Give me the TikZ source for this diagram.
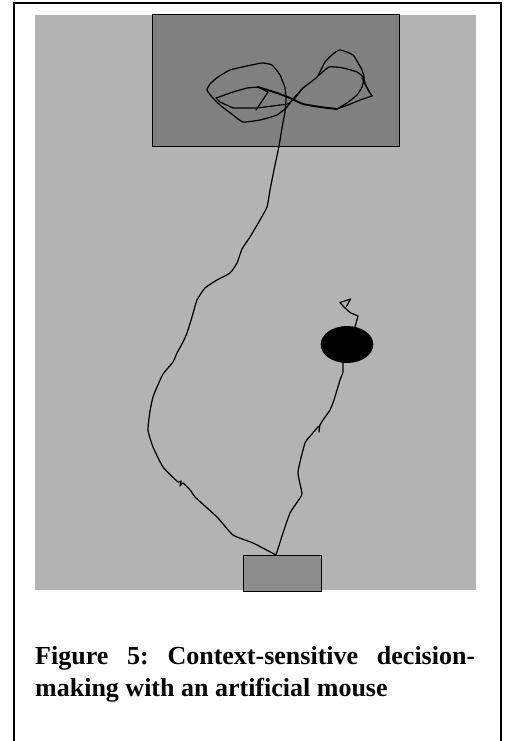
\documentclass[tikz,border=0pt]{standalone}
\usepackage{fontspec}
\setmainfont{Liberation Serif}
\usetikzlibrary{shapes.geometric}
\definecolor{arena}{RGB}{179,179,179}
\definecolor{goalbox}{RGB}{128,128,128}
\definecolor{startbox}{RGB}{140,140,140}
\tikzset{
  track/.style={line width=1.25pt, line join=round, line cap=round},
  thicktrack/.style={line width=1.9pt, line join=round, line cap=round},
  box/.style={draw, line width=1.2pt, inner sep=0pt, anchor=north west},
  captext/.style={anchor=base west, inner sep=0pt, font=\fontsize{26}{32}\selectfont\bfseries\frenchspacing}
}
\begin{document}
\begin{tikzpicture}[x=1pt,y=-1pt]
\useasboundingbox (0,0) rectangle (507,741);
\fill[white] (0,0) rectangle (507,741);
% frame
\draw[line width=2pt] (13.5,742) -- (13.5,3) -- (500.5,3) -- (500.5,742);
% arena
\fill[arena] (35,15) rectangle (476,590);
% goal box and start box
\node[box, fill=goalbox, minimum width=247pt, minimum height=132pt] (goal) at (152,14) {};
\node[box, fill=startbox, minimum width=78pt, minimum height=36pt] (start) at (243,555) {};
\coordinate (s) at (276,555);
% left route up to goal and figure-eight
\draw[track] plot[smooth, tension=0.3] coordinates {
(276,555) (253,543) (233,535) (217,517) (195,497) (191,491) (183,483)
(180,486) (181,481) (178,482) (163,467) (153,447) (148,430) (150,411)
(153,397) (157,387) (163,374) (173,362) (177,353) (183,342) (187,333)
(192,317) (197,300) (205,288) (217,280) (230,273) (237,263) (242,249)
(250,237) (260,220) (267,207) (270,190) (274,170) (279,146) (282,128)
(285,112) (286,100) (285,88) (280,75) (272,65) (262,63) (247,66) (230,70)
(218,77) (210,84) (207,90) (212,97) (220,105) (233,115) (243,122) (260,120)
(277,115) (287,107) (293,99) (303,88) (317,77) (325,62) (333,54) (340,50)
(353,55) (362,70) (364,78) (362,87) (357,95) (347,103) (337,109)};
% thick stroke through crossing
\draw[thicktrack] plot[smooth, tension=0.3] coordinates {
(258,87) (277,93) (290,98) (303,104) (320,107) (337,109)};
% inner lens
\draw[track] (258,87) -- (247,88) -- (233,92) -- (216,98) -- (220,102)
  -- (233,108) -- (257,108) -- (288,104) -- (295,98) -- (303,88);
\draw[track] (258,87) -- (268,92) -- (256,110);
% inner right loop
\draw[track] plot[smooth, tension=0.3] coordinates {
(317,77) (329,67) (343,68) (357,72) (363,77) (365,83) (368,90) (372,96)};
\draw[track] (372,96) -- (360,100) -- (348,105) -- (337,109);
\draw[track] (362,78) -- (366,86) -- (372,96);
% right route to the food
\draw[track] plot[smooth, tension=0.3] coordinates {
(276,555) (283,533) (290,513) (300,498) (302,493) (298,472) (305,443)
(312,434) (317,428) (319.5,426) (319,432) (320,425) (323,420) (330,410)
(334,400) (337,390) (340,380) (343,372) (343,362)};
% tail above the food
\draw[track] (355,327) -- (358,316) -- (350,312.5) -- (343.5,306.5)
  -- (340,302.5) -- (350.5,299) -- (346.5,306.5);
% food
\node[ellipse, fill=black, minimum width=52.6pt, minimum height=37pt, inner sep=0pt] (food) at (347,344.5) {};
% caption
\node[captext] (cap1) at (35,664) {\makebox[440pt][s]{Figure 5: Context-sensitive decision-}};
\node[captext] (cap2) at (35,696) {making with an artificial mouse};
\end{tikzpicture}
\end{document}
